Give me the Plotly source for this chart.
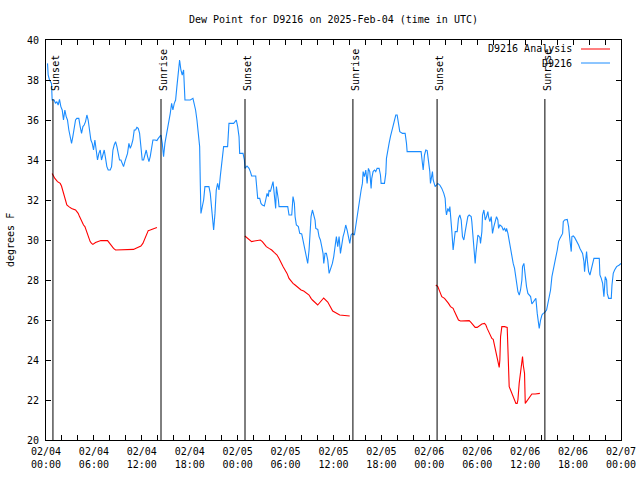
import pandas as pd
import plotly.graph_objects as go

START = pd.Timestamp("2025-02-04 00:00")

# ---- D9216 observations (hours after 2025-02-04 00:00 UTC, dew point F) ----
obs_hours = [
    0.19,0.27,0.44,0.69,0.77,1.02,1.19,1.36,1.52,1.69,1.86,2.03,2.19,2.36,2.53,2.69,2.86,3.03,3.20,3.36,
    3.53,3.70,3.86,4.11,4.28,4.45,4.62,4.78,4.95,5.12,5.28,5.45,5.62,5.79,5.95,6.12,6.29,6.45,6.62,6.79,
    6.95,7.12,7.29,7.46,7.62,7.79,8.04,8.21,8.38,8.54,8.71,8.88,9.04,9.21,9.38,9.54,9.71,9.88,10.05,10.21,
    10.38,10.55,10.71,10.88,11.05,11.22,11.38,11.55,11.72,11.88,12.05,12.22,12.38,12.55,12.72,12.89,13.05,13.22,13.39,13.64,
    13.89,14.06,14.22,14.39,14.56,14.72,14.89,15.06,15.22,15.39,15.56,15.73,15.89,16.06,16.23,16.39,16.56,16.73,16.89,17.06,
    17.23,17.40,17.56,18.07,18.40,18.57,18.73,18.90,19.07,19.24,19.32,19.40,19.57,19.74,19.90,20.40,20.57,20.74,20.91,20.99,
    21.16,21.32,21.49,21.66,21.82,21.99,22.16,22.24,22.74,22.91,23.50,23.83,
    24.00,24.17,24.25,24.67,24.84,24.92,25.17,25.42,25.59,25.75,26.26,26.42,26.51,26.76,26.92,27.09,27.34,27.51,27.68,27.84,
    27.93,28.09,28.26,28.43,28.51,28.68,28.76,28.85,29.01,29.10,29.18,30.27,30.43,30.77,30.93,31.10,31.19,31.35,31.60,31.77,
    32.02,32.19,32.36,32.52,32.69,32.77,32.94,33.11,33.19,33.36,33.52,33.69,33.78,34.03,34.19,34.36,34.53,34.69,34.78,34.94,
    35.11,35.28,35.45,35.61,35.86,36.03,36.20,36.36,36.53,36.70,36.87,37.03,37.20,37.37,37.53,37.70,37.87,38.04,38.20,38.37,
    38.62,38.79,38.95,39.12,39.29,39.46,39.62,39.71,39.87,40.04,40.21,40.37,40.54,40.71,40.79,40.96,41.13,41.29,41.46,41.71,
    41.88,41.96,42.38,42.55,42.63,42.80,42.96,43.13,43.30,43.47,43.63,43.80,43.97,44.13,44.30,44.64,44.97,45.14,45.22,46.97,
    47.14,47.23,47.39,47.56,47.73,
    47.98,48.06,48.14,48.31,48.39,48.48,48.65,48.73,48.90,49.06,49.31,49.56,49.81,49.98,50.07,50.15,50.32,50.48,50.57,50.73,
    50.82,50.98,51.15,51.24,51.49,51.65,51.82,51.99,52.15,52.32,52.49,52.66,52.82,52.99,53.24,53.32,53.41,53.57,53.74,53.83,
    53.99,54.08,54.33,54.41,54.58,54.66,54.83,55.00,55.16,55.33,55.41,55.58,55.75,55.91,56.08,56.25,56.41,56.58,56.67,56.83,
    57.08,57.25,57.42,57.58,57.67,57.84,58.00,58.17,58.34,58.50,58.67,58.84,58.92,59.09,59.26,59.42,59.59,59.67,59.84,60.01,
    60.17,60.34,60.51,60.68,60.84,61.01,61.18,61.34,61.51,61.68,61.76,61.93,62.10,62.26,62.43,62.68,62.85,63.01,63.18,63.35,
    63.52,63.68,63.85,64.02,64.18,64.35,64.52,64.69,64.77,64.94,65.27,65.44,65.60,65.69,65.77,65.85,66.02,66.19,66.36,66.52,
    66.69,66.86,67.02,67.19,67.36,67.44,67.53,67.69,67.78,67.94,68.11,68.28,68.45,68.61,69.28,69.36,69.53,69.70,69.86,69.95,
    70.03,70.20,70.28,70.45,70.78,70.87,71.03,71.20,71.45,71.79,72.00,
]
obs_dewpt = [
    38.83,38.25,38.0,37.83,37.0,37.0,36.83,36.92,36.75,37.03,36.67,36.5,36.0,36.5,36.17,36.0,35.5,35.17,34.83,35.17,
    35.5,36.0,36.08,36.08,35.67,35.33,35.67,35.75,35.92,36.25,36.0,35.5,35.0,34.83,34.5,35.0,34.5,34.0,34.33,34.5,
    34.0,34.33,34.5,34.08,33.67,33.5,33.5,33.67,34.5,34.75,34.92,34.67,34.33,34.0,34.0,33.83,33.67,33.92,34.17,34.33,
    34.83,34.58,34.75,35.0,35.5,35.5,35.63,35.58,35.33,34.5,34.0,34.0,34.25,34.5,34.17,33.92,34.17,34.67,35.0,35.0,
    34.97,35.08,35.17,35.25,34.83,34.17,34.83,35.17,35.5,35.83,36.33,36.83,36.5,36.83,37.0,37.67,38.25,39.0,38.5,38.25,
    38.5,37.0,37.0,37.0,37.08,36.83,36.5,36.0,35.33,34.67,32.83,31.33,31.67,32.0,32.67,32.67,32.33,31.67,31.17,30.5,
    31.33,32.5,32.83,32.5,33.17,33.83,34.33,34.67,34.67,35.83,35.83,36.0,
    35.67,35.17,34.33,34.33,34.0,33.58,33.7,33.58,33.42,33.2,33.2,32.67,32.08,32.08,31.83,31.75,31.7,32.0,32.33,32.17,
    32.5,32.42,32.67,32.92,32.58,32.0,31.58,32.67,32.33,32.0,31.67,31.67,31.25,31.25,32.17,31.83,31.17,30.75,30.67,30.33,
    30.3,30.0,29.67,29.25,29.0,28.83,29.5,30.33,31.17,31.5,31.17,31.0,30.58,30.53,30.17,30.0,29.67,29.33,28.83,29.33,
    29.33,29.0,28.33,28.5,28.83,29.17,29.67,30.17,29.67,30.17,29.33,29.83,30.17,30.42,30.75,30.5,30.17,29.83,30.25,30.33,
    30.25,30.75,31.17,31.67,32.17,32.5,32.83,33.42,33.17,33.5,32.83,33.58,33.42,32.58,33.08,33.42,33.5,33.42,33.58,33.58,
    33.25,32.83,32.83,33.33,34.08,34.58,34.83,35.17,35.42,35.75,36.0,36.25,36.25,35.75,35.42,35.33,35.33,34.83,34.42,34.42,
    33.92,33.5,34.25,34.5,34.47,
    33.83,33.42,32.83,33.17,33.42,33.0,32.67,32.67,32.75,32.83,32.75,32.58,32.33,32.08,31.5,31.25,31.58,31.42,31.67,31.0,
    30.42,29.5,30.17,30.42,30.42,31.08,31.25,31.0,30.17,30.0,30.42,30.92,31.17,31.25,31.17,30.92,30.42,29.67,28.83,29.33,
    30.17,30.25,30.13,29.83,30.42,31.25,31.5,31.0,31.17,31.42,31.17,30.92,31.17,30.33,30.67,30.92,31.17,31.0,30.58,30.75,
    30.67,30.5,30.58,30.42,30.58,30.33,29.92,29.5,29.17,28.83,28.58,28.17,27.75,27.42,27.25,27.5,28.0,28.67,28.83,28.17,
    27.67,27.33,27.25,27.17,26.8,26.92,27.0,27.08,26.33,25.83,25.58,26.0,26.25,26.33,26.37,26.5,26.83,27.17,27.5,28.17,
    28.58,28.83,29.17,29.5,29.92,30.08,30.2,30.33,30.92,31.0,31.03,30.67,30.0,29.67,29.42,30.17,30.2,30.13,30.0,29.92,
    29.75,29.58,29.42,29.33,28.92,28.42,28.83,29.42,29.0,28.42,28.25,28.5,28.75,29.08,29.08,28.25,28.08,27.83,27.17,27.67,
    28.17,28.0,27.33,27.08,27.08,27.75,28.33,28.5,28.67,28.75,28.83,
]

# ---- D9216 Analysis (three nightly segments) ----
ana1_hours = [0.77,1.11,1.44,1.78,1.94,2.11,2.28,2.44,2.61,2.86,3.2,3.7,3.86,4.03,4.2,4.37,4.53,4.7,4.87,5.03,
              5.2,5.37,5.53,5.7,5.87,6.2,6.54,6.87,7.71,7.96,8.21,8.46,8.71,9.13,9.71,10.96,11.21,11.55,11.88,12.13,
              12.3,12.47,12.64,12.8,13.05,13.47,13.89]
ana1_dewpt = [33.33,33.08,32.92,32.83,32.7,32.42,32.17,31.92,31.75,31.67,31.58,31.5,31.42,31.33,31.17,31.0,30.83,30.75,30.67,30.5,
              30.25,30.08,29.92,29.83,29.78,29.87,29.92,29.97,29.97,29.83,29.67,29.58,29.5,29.5,29.53,29.53,29.58,29.63,29.7,29.83,
              30.0,30.17,30.37,30.47,30.5,30.58,30.63]
ana2_hours = [24.9,25.17,25.42,25.75,26.09,26.42,26.84,27.09,27.34,27.59,27.93,28.26,28.6,28.93,29.18,29.43,29.68,29.93,30.18,30.43,
              30.68,30.93,31.19,31.44,31.69,31.94,32.27,32.61,32.94,33.19,33.36,34.02,34.77,35.28,35.9,36.78,38.03]
ana2_dewpt = [30.2,30.1,30.0,29.92,29.95,29.97,30.0,29.92,29.8,29.67,29.58,29.5,29.37,29.25,29.08,28.83,28.67,28.5,28.33,28.08,
              27.92,27.83,27.75,27.67,27.58,27.5,27.45,27.37,27.25,27.08,27.0,26.75,27.1,26.9,26.45,26.25,26.2]
ana3_hours = [48.81,49.06,49.31,49.56,49.9,50.15,50.4,50.65,50.98,51.15,51.4,51.65,51.9,52.4,52.99,53.24,53.49,53.74,53.99,54.24,
              54.58,54.91,55.08,55.24,55.41,55.58,55.83,56.0,56.16,56.33,56.5,56.66,56.75,56.83,56.92,57.08,57.42,57.75,57.83,57.92,
              58.0,58.17,58.34,58.5,58.67,58.84,59.0,59.09,59.25,59.42,59.59,59.67,59.76,59.92,60.01,60.17,60.34,60.59,60.84,61.26,61.84]
ana3_dewpt = [27.75,27.67,27.42,27.17,27.08,26.92,26.83,26.67,26.58,26.42,26.17,26.0,25.95,25.97,25.97,25.87,25.75,25.63,25.63,25.7,
              25.8,25.83,25.75,25.58,25.42,25.25,25.08,25.03,24.75,24.5,24.17,23.83,23.63,24.0,25.17,25.67,25.67,25.63,24.83,23.42,
              22.67,22.5,22.33,22.17,22.0,21.83,21.83,22.0,22.83,23.5,24.0,24.17,23.75,23.33,21.83,21.92,22.08,22.17,22.3,22.3,22.33]

# ---- Sun events (hours after start) ----
event_hours = [0.87, 14.40, 24.92, 38.43, 48.97, 62.47]
event_names = ["Sunset", "Sunrise", "Sunset", "Sunrise", "Sunset", "Sunrise"]

# ---- Axis ticks ----
tick_hours = list(range(0, 73, 2))
tick_labels = {0: "02/04<br>00:00", 6: "02/04<br>06:00", 12: "02/04<br>12:00", 18: "02/04<br>18:00",
               24: "02/05<br>00:00", 30: "02/05<br>06:00", 36: "02/05<br>12:00", 42: "02/05<br>18:00",
               48: "02/06<br>00:00", 54: "02/06<br>06:00", 60: "02/06<br>12:00", 66: "02/06<br>18:00",
               72: "02/07<br>00:00"}
y_ticks = list(range(20, 41, 2))

assert len(obs_hours) == len(obs_dewpt), (len(obs_hours), len(obs_dewpt))
assert len(ana1_hours) == len(ana1_dewpt)
assert len(ana2_hours) == len(ana2_dewpt)
assert len(ana3_hours) == len(ana3_dewpt)


def to_time(hours):
    return [START + pd.Timedelta(hours=h) for h in hours]


FONT = "DejaVu Sans Mono"
BLUE = "#1a8cff"
RED = "#ff0000"

ana_t = to_time(ana1_hours) + [None] + to_time(ana2_hours) + [None] + to_time(ana3_hours)
ana_v = ana1_dewpt + [None] + ana2_dewpt + [None] + ana3_dewpt

fig = go.Figure()
fig.add_trace(go.Scatter(x=ana_t, y=ana_v, mode="lines", name="D9216 Analysis",
                         line=dict(color=RED, width=1.1), connectgaps=False, showlegend=False))
fig.add_trace(go.Scatter(x=to_time(obs_hours), y=obs_dewpt, mode="lines", name="D9216",
                         line=dict(color=BLUE, width=1.1), showlegend=False))

L, R, T, B = 46, 19, 40, 40
PW = 640 - L - R
PH = 480 - T - B

shapes = []
annotations = []
for h, name in zip(event_hours, event_names):
    t = START + pd.Timedelta(hours=h)
    shapes.append(dict(type="line", xref="x", yref="paper", x0=t, x1=t, y0=0, y1=(440 - 99) / PH,
                       line=dict(color="black", width=1)))
    annotations.append(dict(x=t, xref="x", y=(440 - 92) / PH, yref="paper", text=name, textangle=-90,
                            showarrow=False, xanchor="center", yanchor="bottom", xshift=2,
                            font=dict(family=FONT, size=10, color="black"), borderpad=0))

# manual legend (text right-aligned, sample line on the right, like gnuplot)
legend_items = [("D9216 Analysis", RED, 49), ("D9216", BLUE, 63)]
for text, col, ypix in legend_items:
    yp = (440 - ypix) / PH
    annotations.append(dict(x=(574 - L) / PW, xref="paper", y=yp, yref="paper", text=text, showarrow=False,
                            xanchor="right", yanchor="middle", font=dict(family=FONT, size=10, color="black")))
    shapes.append(dict(type="line", xref="paper", yref="paper", x0=(581 - L) / PW, x1=(610 - L) / PW,
                       y0=yp, y1=yp, line=dict(color=col, width=1)))

# y-axis title
annotations.append(dict(x=(10 - L) / PW, xref="paper", y=0.5, yref="paper", text="degrees F", textangle=-90,
                        showarrow=False, xanchor="center", yanchor="middle",
                        font=dict(family=FONT, size=10, color="black")))

fig.update_layout(
    width=640, height=480,
    margin=dict(l=L, r=R, t=T, b=B, autoexpand=False),
    paper_bgcolor="white", plot_bgcolor="white",
    title=dict(text="Dew Point for D9216 on 2025-Feb-04 (time in UTC)", x=0.5, xref="paper", xanchor="center",
               y=1 - 19 / 480, yref="container", yanchor="middle",
               font=dict(family=FONT, size=10, color="black")),
    shapes=shapes, annotations=annotations, showlegend=False,
    font=dict(family=FONT, size=10, color="black"),
)
fig.update_xaxes(
    type="date", range=[START, START + pd.Timedelta(hours=72)],
    tickmode="array", tickvals=to_time(tick_hours),
    ticktext=[tick_labels.get(h, "") for h in tick_hours],
    ticks="inside", ticklen=5, tickcolor="black", tickwidth=1,
    showline=True, linecolor="black", linewidth=1, mirror="ticks",
    showgrid=False, zeroline=False, tickfont=dict(family=FONT, size=10, color="black"),
    ticklabelstandoff=2,
)
fig.update_yaxes(
    range=[20, 40], tickmode="array", tickvals=y_ticks, ticktext=[str(v) for v in y_ticks],
    ticks="inside", ticklen=5, tickcolor="black", tickwidth=1,
    showline=True, linecolor="black", linewidth=1, mirror="ticks",
    showgrid=False, zeroline=False, tickfont=dict(family=FONT, size=10, color="black"),
    ticklabelstandoff=4,
)

fig.write_html("out.html", config={"displayModeBar": False},
               post_script="document.body.style.margin='0';document.body.style.overflow='hidden';")
